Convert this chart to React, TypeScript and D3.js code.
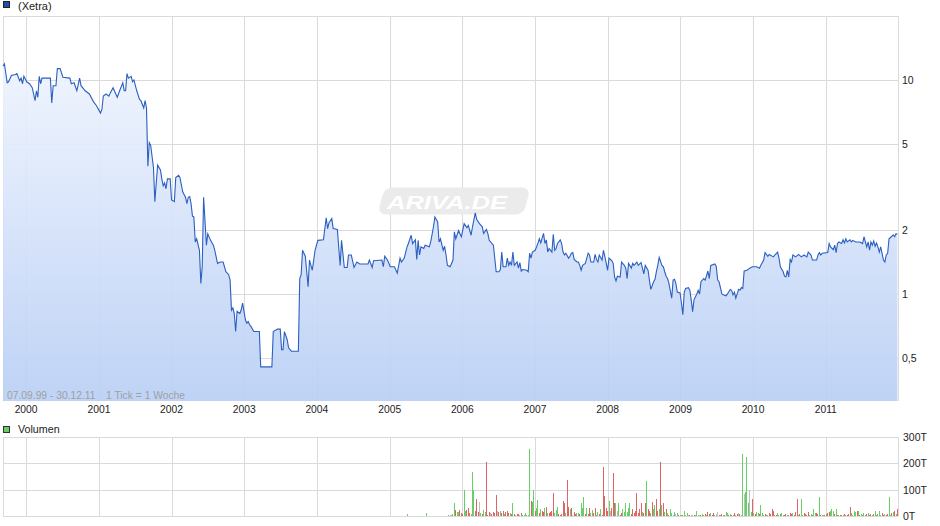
import React from "react";
import * as d3 from "d3";

// ---------- data ----------
const startDate = new Date(1999, 8, 7);
const endDate = new Date(2011, 11, 30);

const yearTicks = [2000, 2001, 2002, 2003, 2004, 2005, 2006, 2007, 2008, 2009, 2010, 2011];
const priceTicks = [10, 5, 2, 1, 0.5];
const priceTickLabels = ["10", "5", "2", "1", "0,5"];
const volumeTicks = [300, 200, 100, 0];
const volumeTickLabels = ["300T", "200T", "100T", "0T"];

// [week index since 07.09.99, price]
const pricePoints: [number, number][] = [
  [0,11.6],[1,11.9],[3,9.7],[4,9.8],[6,10.5],[9,10.6],[10,10.7],[11,10.3],[12,9.9],[13,10.2],[14,9.6],[15,10.4],[17,9.8],[19,9.6],[21,9.2],[23,8.0],[24,8.9],[25,8.3],[26,10.4],[27,9.6],[28,10.2],[34,10.2],[35,7.8],[36,9.4],[38,9.4],[39,11.3],[41,11.3],[43,10.3],[48,10.2],[49,9.6],[51,9.7],[53,8.9],[55,10.2],[56,9.4],[59,8.9],[62,8.6],[65,7.9],[67,7.6],[70,7.0],[71,7.3],[72,8.4],[74,8.6],[76,8.4],[77,8.7],[79,9.2],[82,8.3],[84,9.0],[86,9.7],[87,8.9],[88,8.9],[89,10.7],[90,10.2],[92,10.4],[93,9.8],[94,10.0],[96,8.9],[98,8.1],[99,8.0],[101,7.4],[102,8.0],[103,7.4],[104,3.95],[105,5.1],[106,4.95],[108,3.9],[109,2.7],
  [110,3.3],[111,4.0],[113,3.8],[114,3.45],[115,3.2],[116,3.3],[117,3.1],[118,3.45],[120,3.45],[121,2.75],[123,2.7],[124,3.5],[126,3.58],[127,3.5],[129,3.0],[131,2.83],[132,2.64],[133,2.83],[134,2.85],[135,2.64],[136,2.31],[137,2.29],[138,1.75],[139,1.81],[141,1.6],[142,1.12],[143,1.34],[144,2.83],[146,1.69],[147,1.91],[149,1.78],[151,1.69],[152,1.6],[154,1.39],[156,1.41],[158,1.41],[160,1.27],[162,1.23],[163,1.16],[164,0.84],[165,0.86],[166,0.81],[167,0.667],[168,0.83],[170,0.81],[171,0.843],[172,0.905],[174,0.757],[175,0.73],[176,0.743],[177,0.718],[178,0.705],[180,0.667],[184,0.667],[185,0.456],[193,0.456],[194,0.667],[197,0.685],[199,0.685],[200,0.549],[201,0.549],[202,0.667],[204,0.611],[205,0.56],[207,0.54],[212,0.54],[213,1.18],[214,1.23],[215,1.6],[217,1.5],[219,1.08],[220,1.44],[222,1.29],[224,1.6],[226,1.78],[230,1.79],[232,2.27],[233,2.02],[234,2.15],[236,2.25],[237,2.02],[240,2.0],[242,1.36],[243,1.78],[245,1.33],[247,1.33],[248,1.52],[250,1.52],[252,1.33],[254,1.41],[256,1.38],[262,1.38],[263,1.44],[265,1.33],[266,1.43],[272,1.44],[273,1.34],[274,1.5],[276,1.44],[278,1.34],[281,1.34],[283,1.25],[285,1.47],[286,1.41],[288,1.47],[290,1.66],[291,1.72],[293,1.88],[294,1.72],[296,1.79],[297,1.45],[298,1.78],[299,1.52],[300,1.66],[302,1.63],[303,1.69],[306,1.66],[307,1.75],[309,2.06],[310,2.29],[312,2.17],[313,1.75],[314,1.81],[316,1.6],[317,1.67],[318,1.52],[319,1.36],[321,1.34],[323,1.44],[324,1.95],[325,1.81],[327,1.98],[329,1.85],[331,2.13],[333,2.04],[334,2.09],[336,1.88],[337,2.06],[339,2.39],[340,2.23],[342,2.13],[344,2.06],[345,1.92],[347,2.0],[348,1.92],[349,1.78],[352,1.69],[354,1.27],[356,1.27],[357,1.3],[358,1.57],[359,1.34],[361,1.34],[362,1.47],[363,1.36],[364,1.41],[365,1.36],[366,1.57],[367,1.36],[369,1.41],[370,1.32],[371,1.4],[372,1.28],[373,1.3],[376,1.29],[377,1.27],[378,1.55],[379,1.47],[380,1.57],[382,1.6],[383,1.66],[384,1.73],[385,1.81],[386,1.73],[388,1.92],[389,1.72],[390,1.79],[391,1.57],[392,1.63],[394,1.57],[395,1.9],[396,1.6],[397,1.63],[398,1.72],[400,1.79],[401,1.72],[402,1.57],[403,1.52],[404,1.55],[406,1.47],[407,1.5],[408,1.55],[409,1.56],[410,1.45],[412,1.41],[413,1.41],[414,1.36],[415,1.29],[416,1.36],[418,1.39],[420,1.55],[421,1.52],[422,1.41],[424,1.41],[425,1.53],[426,1.45],[427,1.41],[428,1.52],[430,1.44],[431,1.6],[432,1.5],[433,1.39],[434,1.29],[435,1.47],[437,1.43],[438,1.39],[439,1.2],[440,1.15],[441,1.21],[443,1.2],[444,1.41],[446,1.36],[447,1.32],[448,1.18],[449,1.39],[451,1.32],[452,1.39],[453,1.36],[455,1.41],[456,1.36],[458,1.4],[460,1.24],[461,1.36],[463,1.29],[464,1.16],[465,1.05],[467,1.14],[468,1.17],[469,1.27],[470,1.36],[471,1.48],[473,1.36],[474,1.34],[475,1.27],[476,1.21],[477,1.18],[478,1.12],[480,0.955],[481,1.16],[482,1.17],[483,1.12],[484,1.02],[486,1.01],[487,0.905],[488,0.8],[489,1.02],[490,1.06],[492,1.07],[493,1.04],[494,0.938],[495,0.827],[496,0.938],[498,1.0],[499,1.04],[500,1.0],[501,1.14],[503,1.18],[504,1.16],[506,1.28],[507,1.18],[508,1.36],[511,1.38],[512,1.34],[513,1.16],[514,1.14],[516,1.0],[517,0.99],[519,0.98],[520,1.0],[522,1.05],[523,1.04],[524,0.99],[525,1.02],[526,0.955],[527,1.0],[528,1.05],[529,1.04],[530,1.07],[531,1.06],[532,1.28],[534,1.29],[536,1.32],[538,1.34],[541,1.34],[543,1.32],[544,1.36],[546,1.44],[547,1.56],[549,1.5],[550,1.53],[553,1.49],[554,1.52],[556,1.57],[557,1.47],[558,1.34],[560,1.27],[561,1.21],[562,1.2],[563,1.29],[564,1.2],[565,1.45],[566,1.41],[567,1.52],[569,1.49],[571,1.53],[573,1.49],[575,1.52],[577,1.49],[578,1.57],[580,1.52],[581,1.44],[584,1.44],[585,1.52],[586,1.56],[587,1.52],[588,1.55],[592,1.56],[593,1.72],[594,1.66],[596,1.61],[597,1.69],[598,1.56],[599,1.72],[600,1.75],[602,1.72],[603,1.79],[604,1.73],[605,1.81],[606,1.75],[608,1.79],[609,1.75],[610,1.78],[612,1.75],[615,1.75],[617,1.72],[618,1.85],[620,1.66],[621,1.75],[622,1.6],[623,1.75],[624,1.69],[625,1.77],[626,1.67],[627,1.73],[628,1.66],[629,1.57],[630,1.66],[632,1.44],[633,1.41],[634,1.52],[635,1.55],[636,1.81],[638,1.86],[639,1.89],[640,1.85],[641,1.91],[642,1.9]
];

// weekly volume (thousands), starting at week 290
const volumeStartWeek = 290;
const volumeValues = [
  9,0,0,0,0,0,0,0,0,0,0,0,0,0,13,0,0,0,0,0,0,0,0,0,0,0,0,0,0,0,
  3,4,3,6,50,24,14,17,22,13,
  8,97,20,24,30,12,8,168,100,20,
  63,15,55,12,8,22,14,206,5,15,
  12,6,15,12,78,20,15,18,10,20,
  8,15,18,10,12,8,50,6,4,8,
  8,3,10,4,5,12,4,3,255,56,
  55,97,20,30,62,12,25,20,15,30,
  33,12,10,15,20,86,10,22,33,8,
  5,8,56,50,10,136,36,25,30,4,
  15,8,12,10,8,50,30,72,8,30,
  8,30,10,22,10,30,4,15,8,25,
  5,185,76,30,20,56,20,30,165,50,
  50,20,50,4,10,25,15,50,15,30,
  50,8,25,12,20,88,12,25,50,15,
  12,50,133,25,20,10,53,25,40,63,
  20,25,204,40,50,15,25,12,5,25,
  12,3,15,8,10,5,5,3,4,20,
  3,10,3,5,5,4,3,3,20,5,
  4,3,6,5,8,4,15,6,10,4,
  12,4,8,15,5,4,8,5,3,15,
  10,4,8,5,3,12,4,6,10,8,
  5,236,82,91,225,50,100,15,63,10,
  8,15,12,8,40,12,5,8,5,4,
  10,8,25,20,4,3,10,5,8,12,
  3,5,8,3,5,12,8,10,4,15,
  63,4,8,63,3,12,8,4,15,3,
  8,3,25,12,10,8,72,5,3,4,
  3,8,10,15,20,25,20,8,25,5,
  4,3,5,3,8,5,4,8,35,10,
  5,18,15,20,18,5,8,4,10,3,
  6,12,4,8,3,6,20,5,8,20,
  5,12,4,8,3,6,72,4,10,15,
  20,6,25
];
// g = up (green), r = down (red), n = unchanged (grey), - = none
const volumeDirs =
  "g-------------g---------------" +
  "gngggrggrr" + "rggrrrgggr" + "rrngrggrrr" + "nrrrrnrgrr" + "grrrgrgrnr" +
  "rnrggggggr" + "ggrggrgrrg" + "rgrrrrgggr" + "rrrrgrrgrn" + "rrggrgggrg" +
  "rrggrrggrg" + "rrrrrgnrrr" + "gngrrggggg" + "grrrrrrrrg" + "rrgrrgrggr" +
  "rgrgrgrgrg" + "gngngrggrg" + "ggnrgnrggg" + "nrggrgrrgr" + "rgnnrgrgrg" +
  "grgrgrgrnr" + "ggngggngrg" + "rggrgggrgg" + "rrrrgrggrg" + "grrggrrgrr" +
  "rgrggrrrrg" + "grggrrgrgg" + "rgrrgggrgr" + "grrgrgrrrg" + "gggrgrgrgg" +
  "rgrrgrgrgg" + "grrgrrggrg" + "rgr";

// ---------- layout ----------
const W = 940;
const H = 526;
const left = 3;
const right = 898;
const mainTop = 16;
const mainBottom = 401;
const volTop = 437;
const volBottom = 516;
const font = "Arial, 'Liberation Sans', Helvetica, sans-serif";
const gridColor = "#dadada";

const weekToDate = (w: number) => new Date(startDate.getTime() + w * 7 * 86400000);

export default function App() {
  const x = d3.scaleTime().domain([startDate, endDate]).range([left, right]);
  const y = d3.scaleLog().domain([0.316, 19.9]).range([mainBottom, mainTop]);
  const yv = d3.scaleLinear().domain([0, 300]).range([volBottom, volTop]);

  const line = d3
    .line<[number, number]>()
    .x((d) => x(weekToDate(d[0])))
    .y((d) => y(d[1]));
  const area = d3
    .area<[number, number]>()
    .x((d) => x(weekToDate(d[0])))
    .y0(mainBottom)
    .y1((d) => y(d[1]));

  const crisp = (v: number) => Math.round(v) + 0.5;
  const yearX = yearTicks.map((yr) => x(new Date(yr, 0, 1)));

  const colorFor: Record<string, string> = { g: "#66d066", r: "#e06464", n: "#bdbdbd" };

  return (
    <svg
      width={W}
      height={H}
      style={{ position: "absolute", left: 0, top: 0, background: "#fff" }}
      fontFamily={font}
    >
      <defs>
        <linearGradient id="fillGrad" gradientUnits="userSpaceOnUse" x1={0} y1={mainTop} x2={0} y2={mainBottom}>
          <stop offset="0%" stopColor="#f6f9ff" />
          <stop offset="100%" stopColor="#b9cff5" />
        </linearGradient>
      </defs>
      <rect x={0} y={0} width={W} height={H} fill="#fff" />

      {/* legend price */}
      <rect x={3.5} y={1.5} width={6} height={6} fill="#1f4fae" stroke="#222" />
      <text x={18} y={10} fontSize={11} fill="#222">(Xetra)</text>

      {/* main grid */}
      <g stroke={gridColor} strokeWidth={1} shapeRendering="crispEdges">
        <line x1={left} x2={right} y1={mainTop + 0.5} y2={mainTop + 0.5} />
        {priceTicks.map((t) => (
          <line key={t} x1={left} x2={right} y1={crisp(y(t))} y2={crisp(y(t))} />
        ))}
        {yearX.map((xx, i) => (
          <line key={i} x1={crisp(xx)} x2={crisp(xx)} y1={mainTop} y2={mainBottom} />
        ))}
        <line x1={left + 0.5} x2={left + 0.5} y1={mainTop} y2={mainBottom} />
        <line x1={right + 0.5} x2={right + 0.5} y1={mainTop} y2={mainBottom} />
      </g>

      {/* area */}
      <path d={area(pricePoints) || ""} fill="url(#fillGrad)" fillOpacity={0.92} />

      {/* watermark */}
      <g transform="translate(451,201)">
        <g transform="skewX(-14)">
          <rect x={-70} y={-13.5} width={146} height={27} rx={8} fill="#ebebeb" />
        </g>
        <text
          x={-64}
          y={8}
          fontSize={19}
          fontWeight="bold"
          fontStyle="italic"
          fill="#ffffff"
          textLength={120}
          lengthAdjust="spacingAndGlyphs"
        >
          ARIVA.DE
        </text>
      </g>

      <path d={line(pricePoints) || ""} fill="none" stroke="#2b5fc0" strokeWidth={1.1} />

      {/* right axis labels */}
      {priceTicks.map((t, i) => (
        <text key={t} x={902} y={y(t) + 4} fontSize={10.5} fill="#222">
          {priceTickLabels[i]}
        </text>
      ))}

      {/* date range text */}
      <text x={7} y={398.5} fontSize={10.3} fill="#a0a0a0">07.09.99 - 30.12.11</text>
      <text x={106} y={398.5} fontSize={10.3} fill="#a0a0a0">1 Tick = 1 Woche</text>

      {/* x labels */}
      {yearTicks.map((yr, i) => (
        <text key={yr} x={yearX[i]} y={413} fontSize={10.3} fill="#222" textAnchor="middle">
          {yr}
        </text>
      ))}

      {/* volume legend */}
      <rect x={3.5} y={426.5} width={6} height={6} fill="#66cc66" stroke="#333" />
      <text x={18} y={433} fontSize={10.7} fill="#222">Volumen</text>

      {/* volume grid */}
      <g stroke={gridColor} strokeWidth={1} shapeRendering="crispEdges">
        {volumeTicks.map((t) => (
          <line key={t} x1={left} x2={right} y1={crisp(yv(t))} y2={crisp(yv(t))} />
        ))}
        {yearX.map((xx, i) => (
          <line key={i} x1={crisp(xx)} x2={crisp(xx)} y1={volTop} y2={volBottom} />
        ))}
        <line x1={left + 0.5} x2={left + 0.5} y1={volTop} y2={volBottom} />
        <line x1={right + 0.5} x2={right + 0.5} y1={volTop} y2={volBottom} />
      </g>

      {/* volume bars */}
      <g shapeRendering="crispEdges">
        {volumeValues.map((v, i) => {
          const dir = volumeDirs[i];
          if (!v || dir === "-") return null;
          const bx = x(weekToDate(volumeStartWeek + i));
          const top = yv(v);
          return (
            <rect
              key={i}
              x={Math.round(bx - 0.5)}
              y={top}
              width={1}
              height={Math.max(0.5, volBottom - top)}
              fill={colorFor[dir]}
            />
          );
        })}
      </g>

      {/* volume labels */}
      {volumeTicks.map((t, i) => (
        <text key={t} x={903} y={yv(t) + 4} fontSize={10.5} fill="#222">
          {volumeTickLabels[i]}
        </text>
      ))}
    </svg>
  );
}
